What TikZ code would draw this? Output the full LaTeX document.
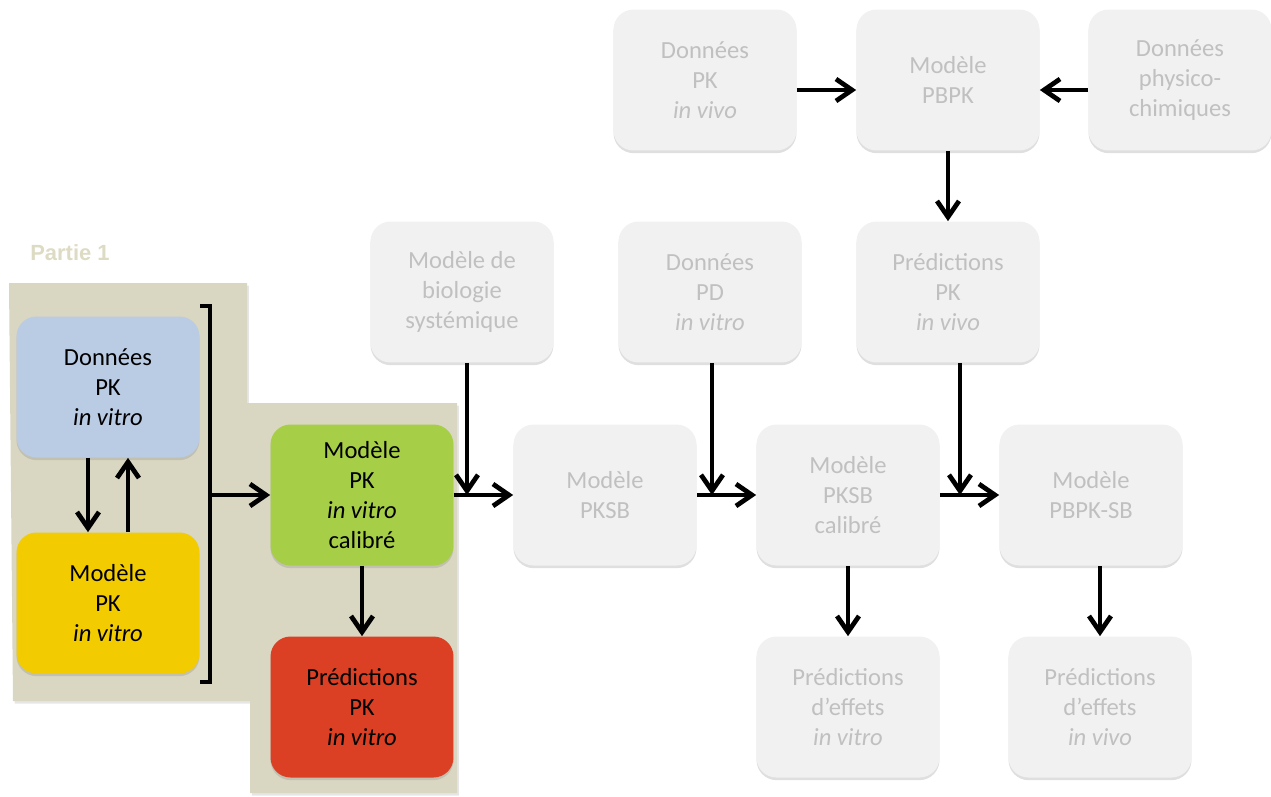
\documentclass[tikz,border=0pt]{standalone}
\usepackage{fontspec}
\setmainfont{Carlito}
\newfontfamily\partfont{Liberation Sans}
\usepackage{tikz}
\usetikzlibrary{arrows.meta, calc, positioning, shadows}
\definecolor{boxgrey}{RGB}{241,241,241}
\definecolor{textgrey}{RGB}{192,192,192}
\definecolor{beige}{RGB}{217,214,194}
\definecolor{partbeige}{RGB}{222,219,196}
\definecolor{pkblue}{RGB}{186,203,228}
\definecolor{pkyellow}{RGB}{242,203,0}
\definecolor{pkgreen}{RGB}{167,206,71}
\definecolor{pkred}{RGB}{219,64,36}
\tikzstyle{base} = [rectangle, rounded corners=0.4cm, minimum width=3.66cm, minimum height=2.82cm, text centered, align=center, font=\fontsize{14}{17}\selectfont, drop shadow={opacity=0.25, shadow xshift=0pt, shadow yshift=-1.5pt}]
\tikzstyle{faded} = [base, fill=boxgrey, text=textgrey]
\tikzstyle{active} = [base, text=black]
\tikzstyle{arrow} = [line width=2.7pt, -{Straight Barb[length=0.32cm, width=0.44cm]}]

\begin{document}
\begin{tikzpicture}[x=0.02cm, y=-0.02cm]
  \useasboundingbox (0,0) rectangle (1271,796);

  % partie 1 background
  \fill[beige, drop shadow={opacity=0.2, shadow xshift=1pt, shadow yshift=-1.5pt}] (9,283) -- (247,283) -- (247,403) -- (457,403) -- (457,793) -- (250,793) -- (250,701) -- (13,701) -- cycle;
  \node (part) at (70,253) {\partfont\bfseries\fontsize{12.5}{14}\selectfont\color{partbeige}Partie 1};

  % top row
  \node (pkvivo) [faded] at (705,80) {Données\\PK\\\textit{in vivo}};
  \node (pbpk) [faded] at (948,80) {Modèle\\PBPK};
  \node (physico) [faded] at (1180,80) {Données\\physico-\\chimiques};

  % second row
  \node (bio) [faded] at (462,292) {Modèle de\\biologie\\systémique};
  \node (pdvitro) [faded] at (710,292) {Données\\PD\\\textit{in vitro}};
  \node (predpk) [faded] at (948,292) {Prédictions\\PK\\\textit{in vivo}};

  % partie 1 boxes
  \node (pkdata) [active, fill=pkblue] at (108,387) {Données\\PK\\\textit{in vitro}};
  \node (pkmod) [active, fill=pkyellow] at (108,603) {Modèle\\PK\\\textit{in vitro}};
  \node (pkcal) [active, fill=pkgreen] at (362,495) {Modèle\\PK\\\textit{in vitro}\\calibré};
  \node (predvitro) [active, fill=pkred] at (362,707) {Prédictions\\PK\\\textit{in vitro}};

  % third row
  \node (pksb) [faded] at (605,495) {Modèle\\PKSB};
  \node (pksbcal) [faded] at (848,495) {Modèle\\PKSB\\calibré};
  \node (pbpksb) [faded] at (1091,495) {Modèle\\PBPK-SB};

  % bottom row
  \node (effvitro) [faded] at (848,707) {Prédictions\\d’effets\\\textit{in vitro}};
  \node (effvivo) [faded] at (1100,707) {Prédictions\\d’effets\\\textit{in vivo}};

  % bracket
  \coordinate (brtop) at (210,306);
  \coordinate (brbot) at (210,682);
  \draw[line width=2.7pt] ($(brtop)+(-10,0)$) -- (brtop) -- (brbot) -- ($(brbot)+(-10,0)$);

  \draw[arrow] ([yshift=-0.2cm]pkvivo.east) -- ([yshift=-0.2cm]pbpk.west);
  \draw[arrow] ([yshift=-0.2cm]physico.west) -- ([yshift=-0.2cm]pbpk.east);
  \draw[arrow] (pbpk) -- (predpk);

  \draw[arrow] ([xshift=-0.4cm]pkdata.south) -- ([xshift=-0.4cm]pkmod.north);
  \draw[arrow] ([xshift=0.4cm]pkmod.north) -- ([xshift=0.4cm]pkdata.south);
  \draw[arrow] (brtop |- pkcal.west) -- (pkcal.west);
  \draw[arrow] (pkcal) -- (predvitro);

  \draw[arrow] (pkcal) -- (pksb);
  \draw[arrow] (pksb) -- (pksbcal);
  \draw[arrow] (pksbcal) -- (pbpksb);

  \coordinate (bioout) at ([xshift=0.1cm]bio.south);
  \draw[arrow] (bioout) -- (bioout |- pksb.west);
  \coordinate (pdout) at ([xshift=0.04cm]pdvitro.south);
  \draw[arrow] (pdout) -- (pdout |- pksbcal.west);
  \coordinate (predout) at ([xshift=0.24cm]predpk.south);
  \draw[arrow] (predout) -- (predout |- pbpksb.west);

  \draw[arrow] (pksbcal) -- (effvitro);
  \draw[arrow] (effvivo.north |- pbpksb.south) -- (effvivo.north);
\end{tikzpicture}
\end{document}
